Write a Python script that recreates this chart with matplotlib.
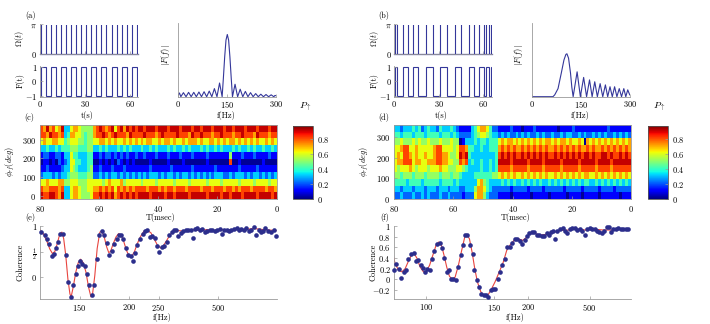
import numpy as np
import matplotlib
matplotlib.use('Agg')
import matplotlib.pyplot as plt

plt.rcParams['font.family'] = 'serif'
plt.rcParams['font.serif'] = ['cmr10']
plt.rcParams['mathtext.fontset'] = 'cm'
plt.rcParams['axes.formatter.use_mathtext'] = True
plt.rcParams['axes.unicode_minus'] = False

# ---------------------------------------------------------------------------
# pulse sequences (pulse times, t in s)
PULSES_A = [0.5, 3.9, 7.2, 10.6, 14.0, 17.4, 20.7, 24.1, 27.5, 30.8,
            34.2, 37.6, 40.9, 44.3, 47.7, 51.1, 54.4, 57.8, 61.2, 64.5]
PULSES_B = [0.25, 1.6, 5.6, 9.0, 12.4, 16.2, 21.2, 25.9, 30.8, 35.8,
            40.9, 44.8, 50.6, 54.2, 57.3, 60.7, 62.3, 63.9, 65.2]
T_END_A, T_END_B = 65.3, 66.3

# filter functions |F(f)|
SPEC_A_F = [0, 3.5, 7.8, 15.7, 23.6, 31.5, 39.4, 47.3, 55.2, 63.1, 71.0, 78.9,
            86.8, 94.7, 102.6, 110.5, 118.4, 126.3, 134.2, 138, 142, 146, 150,
            154, 158, 162, 165.8, 173.7, 181.6, 189.5, 197.4, 205.3, 213.2,
            221.1, 229.0, 236.9, 244.8, 252.7, 260.6, 268.5, 276.4, 284.3,
            292.2, 296.0, 300]
SPEC_A_V = [0.03, 0.06, 0, 0.065, 0, 0.07, 0, 0.07, 0, 0.075, 0, 0.08,
            0, 0.09, 0, 0.13, 0, 0.22, 0, 0.30, 0.64, 0.91, 1.0,
            0.91, 0.64, 0.30, 0, 0.20, 0, 0.12, 0, 0.085, 0,
            0.065, 0, 0.05, 0, 0.04, 0, 0.035, 0, 0.03,
            0, 0.02, 0.015]
SPEC_B_F = [0, 65, 70.5, 80.6, 90.6, 98.7, 104.7, 107.8, 112.8, 118.8, 122.9,
            126.9, 139, 149, 159, 168, 177, 185, 193, 201, 209.5, 217.5,
            225.6, 232.6, 239.7, 246.7, 253.8, 260.8, 268, 275, 282, 288,
            294, 300]
SPEC_B_V = [0, 0, 0.03, 0.13, 0.38, 0.59, 0.68, 0.69, 0.62, 0.38, 0.15,
            0, 0.40, 0, 0.31, 0, 0.27, 0, 0.24, 0, 0.21, 0,
            0.19, 0, 0.16, 0, 0.16, 0, 0.13, 0, 0.13, 0,
            0.11, 0.03]

# P_up maps, tenths; rows from phi=360 (top) down to phi=0, columns T=80 -> 0
P_C_ROWS = [
    "87978679" "3367765555" "7" "89878968979898" "9989998999" "8999899989" "9899989998" "9989998999" "8999899",
    "88798878" "3477665455" "7" "88987898887988" "8898887898" "8889888798" "8988878898" "8878898887" "9888788",
    "67667766" "4566655455" "6" "67767676676767" "6767766767" "7676676777" "6766776767" "6776767676" "7667676",
    "33433434" "4455544455" "3" "34343334343433" "3433434333" "4343343433" "3434334343" "3343433434" "3343343",
    "12211221" "3364433344" "1" "12122121212112" "1121112111" "2111211121" "1112111111" "1511121112" "1111211",
    "01101021" "2366443344" "0" "01010102101010" "0000100000" "1000010000" "0001000000" "0800100000" "0010000",
    "11211112" "3365433345" "1" "12111211121111" "1111211111" "1211111121" "1111112111" "1111211111" "2111111",
    "23332323" "3455544455" "2" "23232332323232" "3232333232" "3323233232" "3232323332" "2323332323" "3232323",
    "66766677" "5566655566" "6" "66567666756666" "6566665666" "6656666566" "6665666656" "6666566665" "6666566",
    "87788878" "3367765566" "7" "78787868787878" "8887888787" "8878887888" "8788878887" "8878788878" "8887887",
    "98899879" "3367765556" "8" "89898978989898" "9999899998" "9989999899" "9998999989" "9899989999" "8999989",
]
P_D_ROWS = [
    "3323334342" "3433243334" "32" "1111" "346776422" "1111211101" "1121111111" "0111121111" "1111111211" "11111",
    "4434443444" "3444434443" "43" "2222" "345665433" "2323223232" "3223232232" "2323322323" "2232323223" "23232",
    "5565556565" "5655565556" "55" "0133" "343443444" "6767767676" "7676767767" "6776766760" "7676767676" "76767",
    "6678866766" "6667886666" "56" "8874" "433433444" "7878787787" "8787878778" "7878787877" "8787787878" "78787",
    "6768876766" "7667887765" "56" "9894" "333333334" "8989898898" "9898989889" "8989898989" "9898899898" "89898",
    "6778886776" "6777887766" "55" "8783" "433433434" "9999899999" "8999989999" "9899999899" "9998999989" "99999",
    "6566676566" "6566676655" "56" "6543" "333433434" "8888788888" "7888878888" "8788888788" "8887888878" "88888",
    "5545554555" "4555545554" "55" "4333" "344444455" "6767676676" "7676767667" "6767676767" "7667676767" "67676",
    "4444344443" "4444434444" "34" "3333" "336754333" "3434343343" "4343433434" "3434343434" "4334343434" "34343",
    "3323332333" "2333233323" "33" "2233" "357764322" "2222122222" "1222212222" "2212222212" "2222122221" "22222",
    "2232223223" "2322232232" "22" "2122" "267753222" "1111011111" "1011111011" "1110111101" "1111011111" "10111",
]

# coherence vs period T (ms); axis labelled in f = 1/T
COH_E_T = [7.95, 7.84, 7.76, 7.69, 7.61, 7.53, 7.47, 7.39, 7.31, 7.22,
           7.13, 7.05, 6.96, 6.88, 6.80, 6.73, 6.65, 6.58, 6.49, 6.41,
           6.34, 6.26, 6.18, 6.09, 6.00, 5.92, 5.84, 5.75, 5.66, 5.58,
           5.50, 5.41, 5.34, 5.27, 5.19, 5.11, 5.02, 4.94, 4.87, 4.79,
           4.72, 4.63, 4.54, 4.46, 4.38, 4.29, 4.21, 4.13, 4.04, 3.97,
           3.89, 3.81, 3.72, 3.63, 3.55, 3.48, 3.41, 3.33, 3.25, 3.16,
           3.07, 2.99, 2.91, 2.84, 2.77, 2.69, 2.60, 2.52, 2.44, 2.35,
           2.26, 2.18, 2.10, 2.03, 1.94, 1.86, 1.78, 1.69, 1.62, 1.54,
           1.45, 1.36, 1.28, 1.20, 1.13, 1.04, 0.95, 0.87, 0.79, 0.70,
           0.62, 0.54, 0.48, 0.39, 0.30, 0.21, 0.09, 0.03]
COH_E = [0.88, 0.82, 0.75, 0.65, 0.42, 0.46, 0.56, 0.69, 0.85, 0.85,
         0.44, -0.10, -0.39, -0.16, 0.05, 0.21, 0.31, 0.26, 0.22, 0.05,
         -0.15, -0.35, -0.15, 0.36, 0.82, 0.90, 0.82, 0.67, 0.44, 0.52,
         0.65, 0.75, 0.82, 0.83, 0.74, 0.57, 0.44, 0.41, 0.31, 0.48,
         0.62, 0.75, 0.85, 0.90, 0.92, 0.78, 0.80, 0.76, 0.60, 0.50,
         0.59, 0.61, 0.69, 0.82, 0.88, 0.92, 0.93, 0.80, 0.87, 0.90,
         0.92, 0.92, 0.93, 0.76, 0.95, 0.96, 0.93, 0.95, 0.88, 0.90,
         0.93, 0.92, 0.90, 0.93, 0.95, 0.85, 0.92, 0.93, 0.90, 0.92,
         0.95, 0.96, 0.92, 0.95, 0.93, 0.96, 0.90, 0.93, 0.98, 0.83,
         0.93, 0.88, 0.90, 0.96, 0.90, 0.88, 0.93, 0.80]
FIT_E_T = [8.01, 7.89, 7.78, 7.67, 7.58, 7.50, 7.42, 7.33, 7.26, 7.20, 7.13,
           7.06, 6.99, 6.95, 6.88, 6.79, 6.71, 6.63, 6.54, 6.45, 6.36, 6.28,
           6.23, 6.15, 6.07, 5.98, 5.91, 5.83, 5.75, 5.68, 5.62, 5.53, 5.44,
           5.35, 5.26, 5.17, 5.08, 4.99, 4.90, 4.81, 4.72, 4.60, 4.49, 4.38,
           4.26, 4.15, 4.04, 3.93, 3.84, 3.72, 3.61, 3.48, 3.33, 3.16, 2.99,
           2.82, 2.60, 2.37, 2.15, 1.81, 1.47, 1.13, 0.79, 0.45, 0.23, 0.03]
FIT_E = [0.935, 0.85, 0.72, 0.55, 0.46, 0.50, 0.65, 0.85, 0.88, 0.75, 0.42,
         -0.03, -0.33, -0.39, -0.20, 0.10, 0.28, 0.35, 0.28, 0.10, -0.20, -0.39,
         -0.35, 0.03, 0.56, 0.88, 0.90, 0.78, 0.59, 0.48, 0.50, 0.65, 0.78,
         0.85, 0.82, 0.69, 0.52, 0.41, 0.41, 0.50, 0.65, 0.80, 0.90, 0.91,
         0.87, 0.75, 0.63, 0.57, 0.61, 0.72, 0.83, 0.90, 0.91, 0.90, 0.92,
         0.93, 0.91, 0.93, 0.91, 0.93, 0.93, 0.93, 0.95, 0.93, 0.92, 0.91]

COH_F_T = [11.58, 11.45, 11.33, 11.20, 11.09, 10.96, 10.85, 10.72, 10.60, 10.49,
           10.36, 10.25, 10.15, 10.03, 9.92, 9.79, 9.68, 9.58, 9.46, 9.33,
           9.22, 9.11, 8.98, 8.86, 8.77, 8.65, 8.52, 8.41, 8.29, 8.20,
           8.08, 7.97, 7.84, 7.72, 7.63, 7.51, 7.40, 7.29, 7.17, 7.06,
           6.94, 6.83, 6.72, 6.60, 6.49, 6.38, 6.26, 6.13, 6.02, 5.89,
           5.77, 5.64, 5.53, 5.40, 5.29, 5.17, 5.07, 4.94, 4.83, 4.72,
           4.59, 4.47, 4.34, 4.23, 4.10, 3.98, 3.87, 3.77, 3.69, 3.58,
           3.45, 3.32, 3.20, 3.09, 2.96, 2.85, 2.72, 2.60, 2.47, 2.36,
           2.24, 2.12, 1.98, 1.86, 1.74, 1.63, 1.53, 1.40, 1.29, 1.17,
           1.06, 0.96, 0.85, 0.72, 0.60, 0.47, 0.36, 0.23, 0.10]
COH_F = [0.17, 0.29, 0.20, 0.03, 0.13, 0.18, 0.38, 0.47, 0.50, 0.34,
         0.36, 0.26, 0.21, 0.13, 0.20, 0.17, 0.39, 0.54, 0.67, 0.69,
         0.58, 0.40, 0.13, 0.17, 0.00, 0.00, -0.02, 0.23, 0.45, 0.64,
         0.83, 0.83, 0.65, 0.48, 0.17, -0.02, -0.14, -0.27, -0.29, -0.30,
         -0.33, -0.21, -0.18, -0.18, 0.01, 0.14, 0.26, 0.39, 0.61, 0.61,
         0.69, 0.75, 0.76, 0.72, 0.67, 0.73, 0.81, 0.86, 0.89, 0.88,
         0.84, 0.83, 0.81, 0.81, 0.86, 0.84, 0.89, 0.90, 0.75, 0.90,
         0.94, 0.96, 0.90, 0.86, 0.95, 0.96, 0.96, 0.92, 0.95, 0.90,
         0.83, 0.95, 0.96, 0.94, 0.95, 0.90, 0.89, 0.86, 0.90, 0.98,
         0.98, 0.88, 0.95, 0.94, 0.96, 0.95, 0.94, 0.94, 0.94]
FIT_F_T = [11.61, 11.50, 11.33, 11.17, 11.01, 10.85, 10.68, 10.57, 10.44, 10.28,
           10.12, 9.98, 9.82, 9.66, 9.50, 9.37, 9.24, 9.11, 8.98, 8.85, 8.72,
           8.57, 8.41, 8.25, 8.10, 8.00, 7.87, 7.74, 7.61, 7.48, 7.32, 7.16,
           6.99, 6.83, 6.62, 6.41, 6.21, 6.05, 5.89, 5.69, 5.48, 5.27, 5.07,
           4.91, 4.67, 4.42, 4.18, 3.94, 3.69, 3.45, 3.12, 2.80, 2.47, 2.15,
           1.82, 1.33, 0.85, 0.52, 0.10]
FIT_F = [0.48, 0.29, 0.17, 0.14, 0.20, 0.34, 0.47, 0.48, 0.40, 0.23,
         0.14, 0.15, 0.26, 0.45, 0.64, 0.70, 0.64, 0.45, 0.23, 0.06, 0.0,
         0.04, 0.26, 0.54, 0.79, 0.84, 0.76, 0.51, 0.20, -0.05, -0.23, -0.31,
         -0.31, -0.21, -0.05, 0.14, 0.33, 0.54, 0.64, 0.73, 0.76, 0.73, 0.79,
         0.86, 0.86, 0.83, 0.84, 0.87, 0.89, 0.92, 0.92, 0.94, 0.94, 0.92,
         0.94, 0.925, 0.925, 0.94, 0.94]

# ---------------------------------------------------------------------------
W, H = 710, 324
NAVY = '#34379a'
DOT = '#2c2e8c'
RED = '#e8453f'
GRAY = '#9a9a9a'
FS = 6

fig = plt.figure(figsize=(W / 100, H / 100), dpi=100)


def px_axes(l, t, r, b):
    return fig.add_axes([l / W, 1 - b / H, (r - l) / W, (b - t) / H])


def px_text(x, y, s, **kw):
    kw.setdefault('ha', 'center')
    kw.setdefault('va', 'center')
    kw.setdefault('fontsize', FS)
    fig.text(x / W, 1 - y / H, s, **kw)


def style(ax, full=False):
    for side in ('top', 'right'):
        ax.spines[side].set_visible(full)
    for sp in ax.spines.values():
        sp.set_color(GRAY)
        sp.set_linewidth(0.6)
    ax.tick_params(direction='in', length=2, width=0.5, color=GRAY,
                   labelsize=FS, pad=2)
    ax.patch.set_alpha(0)


def maps(rows):
    for r in rows:
        assert len(r) == 80, len(r)
    return np.array([[int(c) / 10 + 0.02 for c in r] for r in rows[::-1]])


def sequence_panel(x0, pulses, t_end):
    ax = px_axes(x0, 24.5, x0 + 98, 54)
    style(ax)
    ax.vlines(pulses, 0, np.pi, color=NAVY, lw=0.8)
    ax.plot([0, t_end], [0, 0], color=NAVY, lw=0.9, clip_on=False)
    ax.set_xlim(0, t_end)
    ax.set_ylim(0, np.pi)
    ax.set_xticks([0, 30, 60], [])
    ax.set_yticks([0, np.pi], ['$0$', r'$\pi$'])

    ax2 = px_axes(x0, 65.7, x0 + 98, 96.7)
    style(ax2)
    edges = np.concatenate([[0], pulses, [t_end]])
    vals = np.array([-1 if i % 2 == 0 else 1 for i in range(len(pulses) + 1)])
    ax2.stairs(vals, edges, baseline=None, color=NAVY, lw=0.8)
    ax2.set_xlim(0, t_end)
    ax2.set_ylim(-1.07, 1.07)
    ax2.set_xticks([0, 30, 60], ['$0$', '$30$', '$60$'])
    ax2.set_yticks([-1, 0, 1], ['$-1$', '$0$', '$1$'])
    px_text(x0 - 20, 39, r'$\Omega(t)$', rotation=90)
    px_text(x0 - 20, 81, 'F(t)', rotation=90)
    px_text(x0 + 47, 116, 't(s)')


def spectrum_panel(x0, f, v):
    ax = px_axes(x0, 23.3, x0 + 98, 96.7)
    style(ax)
    ax.plot(f, v, color=NAVY, lw=0.8)
    ax.set_xlim(0, 300)
    ax.set_ylim(0, 1.18)
    ax.set_xticks([0, 150, 300], ['$0$', '$150$', '$300$'])
    ax.set_yticks([])
    px_text(x0 - 13, 55, r'$|F(f)|$', rotation=90)
    px_text(x0 + 48, 116, 'f(Hz)')


def map_panel(x0, rows, phi_edges, ylim, cx):
    ax = px_axes(x0, 125, x0 + 236.5, 199)
    style(ax, full=True)
    ax.tick_params(axis='x', pad=3.5)
    ax.tick_params(axis='y', pad=3)
    mesh = ax.pcolormesh(np.arange(81), phi_edges, maps(rows)[:, ::-1],
                         cmap='jet', vmin=0, vmax=0.98, shading='flat')
    ax.set_xlim(80, 0)
    ax.set_ylim(*ylim)
    ax.set_xticks([80, 60, 40, 20, 0], ['$80$', '$60$', '$40$', '$20$', '$0$'])
    ax.set_yticks([0, 100, 200, 300], ['$0$', '$100$', '$200$', '$300$'])
    cax = px_axes(cx, 126, cx + 20, 199)
    cb = fig.colorbar(mesh, cax=cax)
    cb.outline.set_linewidth(0.6)
    cb.outline.set_edgecolor('#555555')
    cb.set_ticks([0, 0.2, 0.4, 0.6, 0.8], labels=['$0$', '$0.2$', '$0.4$', '$0.6$', '$0.8$'])
    cax.tick_params(direction='in', length=2, width=0.5, color=GRAY,
                    labelsize=FS, pad=3)
    px_text(x0 - 30, 162, r'$\phi_{rf}(deg)$', rotation=90)
    px_text(x0 + 121, 218, 'T(msec)')
    px_text(cx + 12, 107, r'$P_{\uparrow}$', fontsize=7)


def coherence_panel(x0, t, c, ft, fc, xlim, ylim, yticks, ylabels, xticks, xlabels):
    ax = px_axes(x0, 226, x0 + 237, 299)
    style(ax)
    ax.plot(ft, fc, color=RED, lw=0.8, zorder=2)
    ax.scatter(t, c, s=11, color=DOT, lw=0, zorder=3, clip_on=False)
    ax.set_xlim(*xlim)
    ax.set_ylim(*ylim)
    ax.set_xticks(xticks, xlabels)
    ax.set_yticks(yticks, ylabels)
    px_text(x0 - 20, 262, 'Coherence', rotation=90)
    px_text(x0 + 122, 318, 'f(Hz)')


# ---------------------------------------------------------------------------
sequence_panel(40, PULSES_A, T_END_A)
sequence_panel(394.3, PULSES_B, T_END_B)
spectrum_panel(178.3, SPEC_A_F, SPEC_A_V)
spectrum_panel(531.7, SPEC_B_F, SPEC_B_V)

map_panel(40, P_C_ROWS, np.arange(-18, 379, 36), (-18, 378), 293)
map_panel(394.3, P_D_ROWS, np.linspace(0, 360, 12), (0, 360), 647.7)

coherence_panel(40, COH_E_T, COH_E, FIT_E_T, FIT_E, (8.0, 0.0), (-0.43, 1.0),
                [0, 0.5, 1], ['$0$', r'$\frac{1}{2}$', '$1$'],
                [1000 / 150, 1000 / 200, 1000 / 250, 1000 / 500],
                ['$150$', '$200$', '$250$', '$500$'])
coherence_panel(393.5, COH_F_T, COH_F, FIT_F_T, FIT_F, (11.58, 0.0), (-0.37, 1.0),
                [-0.2, 0, 0.2, 0.4, 0.6, 0.8, 1],
                ['$-0.2$', '$0$', '$0.2$', '$0.4$', '$0.6$', '$0.8$', '$1$'],
                [1000 / 100, 1000 / 150, 1000 / 200, 1000 / 500],
                ['$100$', '$150$', '$200$', '$500$'])

for x, y, s in [(30, 16, '(a)'), (384, 16, '(b)'), (29, 117, '(c)'),
                (384, 117, '(d)'), (30, 218, '(e)'), (385, 218, '(f)')]:
    px_text(x, y, s)

fig.savefig('out.png', dpi=100)
